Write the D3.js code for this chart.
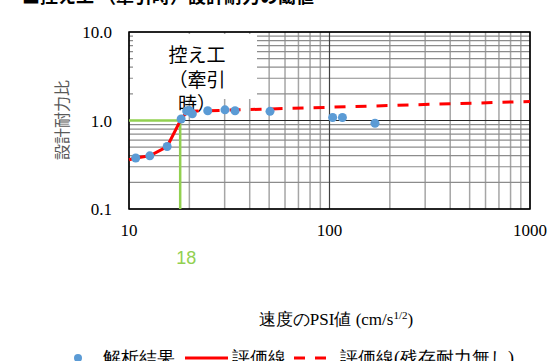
<!DOCTYPE html>
<html><head><meta charset="utf-8">
<script src="https://cdn.jsdelivr.net/npm/d3@7"></script>
<style>body{margin:0;background:#fff}svg{display:block}</style>
</head><body>
<script>
const pointX = [10.8, 12.7, 15.5, 18.2, 19.4, 20.0, 20.7, 24.7, 30.1, 33.8, 50.5, 103.7, 116, 168.6];
const pointY = [0.377, 0.399, 0.508, 1.04, 1.28, 1.30, 1.19, 1.29, 1.32, 1.29, 1.27, 1.08, 1.08, 0.93];
const solidX = [10, 10.8, 12.7, 15.5, 18.2, 19.6];
const solidY = [0.36, 0.377, 0.399, 0.508, 1.04, 1.27];
const dashX = [19.6, 1000];
const dashY = [1.27, 1.64];
const thresholdX = 18;
const thresholdY = 1.0;
const xTicks = [10, 100, 1000];
const yTicks = [0.1, 1, 10];
const yTickLabels = ["0.1", "1.0", "10.0"];
const titleText = "■控え工 （牽引時）設計耐力の閾値";
const boxLines = ["控え工", "（牽引", "時）"];
const legendLabels = ["解析結果", "評価線", "評価線(残存耐力無し)"];

const W = 554, H = 361;
const svg = d3.select("body").append("svg").attr("width", W).attr("height", H);
const x = d3.scaleLog().domain([10, 1000]).range([129, 530]);
const y = d3.scaleLog().domain([0.1, 10]).range([209, 32]);
const serif = "'Liberation Serif','Times New Roman',serif";
const sans = "'Noto Sans CJK JP','Noto Sans',sans-serif";

// title (cut off at top)
svg.append("text").attr("x", 22).attr("y", 3).attr("font-family", sans)
  .attr("font-size", 18).attr("font-weight", 700).attr("fill", "#000").text(titleText);

// minor grid
const minorX = [], minorY = [];
for (const d of [10, 100]) for (let k = 2; k <= 9; k++) minorX.push(d * k);
for (const d of [0.1, 1]) for (let k = 2; k <= 9; k++) minorY.push(d * k);
const g = svg.append("g");
g.selectAll(".mx").data(minorX).join("line")
  .attr("x1", d => x(d)).attr("x2", d => x(d)).attr("y1", y(10)).attr("y2", y(0.1))
  .attr("stroke", "#a6a6a6").attr("stroke-width", 1.5);
g.selectAll(".my").data(minorY).join("line")
  .attr("x1", x(10)).attr("x2", x(1000)).attr("y1", d => y(d)).attr("y2", d => y(d))
  .attr("stroke", "#8c8c8c").attr("stroke-width", 1.2);
g.selectAll(".Mx").data(xTicks).join("line")
  .attr("x1", d => x(d)).attr("x2", d => x(d)).attr("y1", y(10)).attr("y2", y(0.1))
  .attr("stroke", "#404040").attr("stroke-width", 1.2);
g.selectAll(".My").data(yTicks).join("line")
  .attr("x1", x(10)).attr("x2", x(1000)).attr("y1", d => y(d)).attr("y2", d => y(d))
  .attr("stroke", "#262626").attr("stroke-width", 1.2);
svg.append("rect").attr("x", x(10)).attr("y", y(10)).attr("width", x(1000) - x(10))
  .attr("height", y(0.1) - y(10)).attr("fill", "none").attr("stroke", "#000").attr("stroke-width", 1.5);

// text box
svg.append("rect").attr("x", 133).attr("y", 34).attr("width", 124).attr("height", 65).attr("fill", "#fff");
svg.append("g").selectAll("text").data(boxLines).join("text")
  .attr("x", 197).attr("y", (d, i) => 62 + i * 24.5).attr("text-anchor", "middle")
  .attr("font-family", sans).attr("font-size", 19).attr("fill", "#000").text(d => d);

// axes labels
svg.append("g").selectAll("text").data(yTicks).join("text")
  .attr("x", 112).attr("y", d => y(d) + 6).attr("text-anchor", "end")
  .attr("font-family", serif).attr("font-size", 17).attr("fill", "#000")
  .text((d, i) => yTickLabels[i]);
svg.append("g").selectAll("text").data(xTicks).join("text")
  .attr("x", d => x(d)).attr("y", 236).attr("text-anchor", "middle")
  .attr("font-family", serif).attr("font-size", 17).attr("fill", "#000").text(d => d);
svg.append("text").attr("transform", "translate(68,120) rotate(-90)").attr("text-anchor", "middle")
  .attr("font-family", sans).attr("font-size", 16).attr("fill", "#595959").text("設計耐力比");
const xt = svg.append("text").attr("x", 336).attr("y", 325).attr("text-anchor", "middle")
  .attr("font-family", serif).attr("font-size", 17).attr("fill", "#000");
xt.append("tspan").text("速度のPSI値 (cm/s");
xt.append("tspan").attr("font-size", 11).attr("dy", -6).text("1/2");
xt.append("tspan").attr("dy", 6).text(")");

// threshold lines
const green = "#92D050";
svg.append("line").attr("x1", x(10)).attr("x2", x(thresholdX)).attr("y1", y(thresholdY)).attr("y2", y(thresholdY))
  .attr("stroke", green).attr("stroke-width", 2.5);
svg.append("line").attr("x1", x(thresholdX)).attr("x2", x(thresholdX)).attr("y1", y(thresholdY)).attr("y2", y(0.1))
  .attr("stroke", green).attr("stroke-width", 2.5);
svg.append("text").attr("x", x(thresholdX) + 6).attr("y", 264).attr("text-anchor", "middle")
  .attr("font-family", "'Liberation Sans',Arial,sans-serif").attr("font-size", 18).attr("fill", green).text(thresholdX);

// lines
const line = d3.line().x(d => x(d[0])).y(d => y(d[1]));
svg.append("path").attr("d", line(solidX.map((v, i) => [v, solidY[i]])))
  .attr("fill", "none").attr("stroke", "#ff0000").attr("stroke-width", 3);
svg.append("path").attr("d", line(dashX.map((v, i) => [v, dashY[i]])))
  .attr("fill", "none").attr("stroke", "#ff0000").attr("stroke-width", 3).attr("stroke-dasharray", "11,10");

// points
svg.append("g").selectAll("circle").data(pointX.map((v, i) => [v, pointY[i]])).join("circle")
  .attr("cx", d => x(d[0])).attr("cy", d => y(d[1])).attr("r", 4.5).attr("fill", "#5B9BD5");

// legend (cut off at bottom)
const ly = 364;
svg.append("circle").attr("cx", 78).attr("cy", ly - 6).attr("r", 4).attr("fill", "#5B9BD5");
svg.append("text").attr("x", 103).attr("y", ly).attr("font-family", serif).attr("font-size", 18).text(legendLabels[0]);
svg.append("line").attr("x1", 185).attr("x2", 228).attr("y1", ly - 6).attr("y2", ly - 6).attr("stroke", "#ff0000").attr("stroke-width", 3);
svg.append("text").attr("x", 232).attr("y", ly).attr("font-family", serif).attr("font-size", 18).text(legendLabels[1]);
svg.append("line").attr("x1", 294).attr("x2", 326).attr("y1", ly - 6).attr("y2", ly - 6).attr("stroke", "#ff0000").attr("stroke-width", 3).attr("stroke-dasharray", "11,10");
svg.append("text").attr("x", 340).attr("y", ly).attr("font-family", serif).attr("font-size", 18).text(legendLabels[2]);
</script>
</body></html>
